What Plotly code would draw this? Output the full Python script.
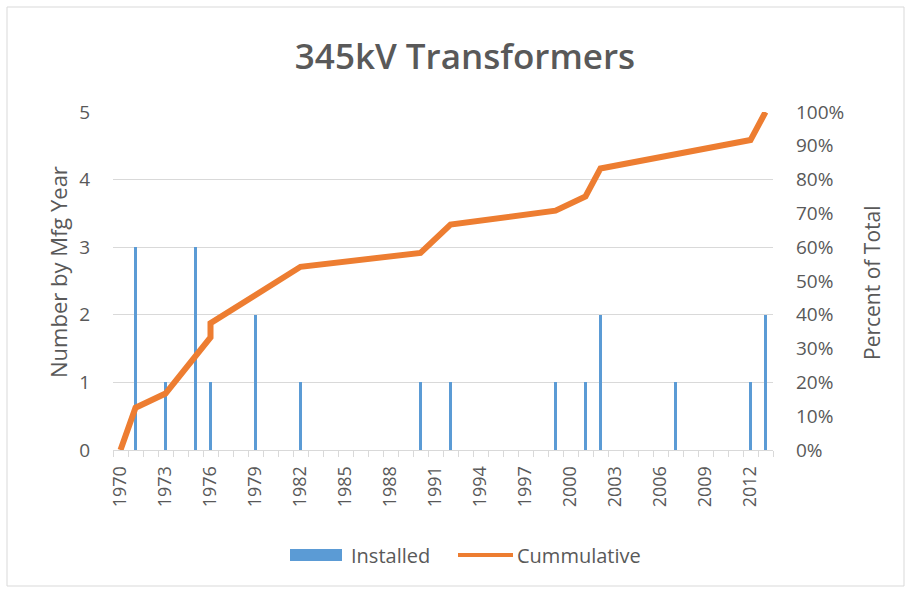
import plotly.graph_objects as go

# Units installed per manufacturing year
install_years = [1971, 1973, 1975, 1976, 1979, 1982, 1990, 1992, 1999, 2001, 2002, 2007, 2012, 2013]
installed = [3, 1, 3, 1, 2, 1, 1, 1, 1, 1, 2, 1, 1, 2]

# Cumulative share of the fleet (percent) at each vertex of the running-total line
cum_years = [1970, 1971, 1973, 1976, 1976, 1979, 1982, 1990, 1992, 1999, 2001, 2002, 2007, 2012, 2013]
cum_pct = [0, 12.5, 16.7, 33.3, 37.5, 45.8, 54.2, 58.3, 66.7, 70.8, 75.0, 83.3, 87.5, 91.7, 100]

tick_years = list(range(1970, 2013, 3))

BLUE = "#5B9BD5"
ORANGE = "#ED7D31"
GRID = "#D9D9D9"
TXT = "#595959"
FONT = "Open Sans"

W, H = 909, 591
L, R, T, B = 113, 773, 112, 450  # plot area in pixels


def px(x):
    return (x - L) / (R - L)


def py(y):
    return (B - y) / (B - T)


fig = go.Figure()
fig.add_trace(go.Bar(
    x=install_years, y=installed, name="Installed",
    marker=dict(color=BLUE, line=dict(width=0)), width=0.26,
))
fig.add_trace(go.Scatter(
    x=cum_years, y=[v / 100 for v in cum_pct], name="Cummulative",
    mode="lines", line=dict(color=ORANGE, width=6), yaxis="y2",
))

# Legend drawn below the plot: swatch + label for each series
legend_y = 555
shapes = [
    dict(type="rect", xref="paper", yref="paper",
         x0=px(7), x1=px(904), y0=py(586), y1=py(7),
         line=dict(color=GRID, width=1), fillcolor="rgba(0,0,0,0)", layer="below"),
    dict(type="rect", xref="paper", yref="paper",
         x0=px(290), x1=px(342), y0=py(legend_y + 6), y1=py(legend_y - 6),
         line=dict(width=0), fillcolor=BLUE),
    dict(type="line", xref="paper", yref="paper",
         x0=px(458), x1=px(513), y0=py(legend_y), y1=py(legend_y),
         line=dict(color=ORANGE, width=4)),
]

fig.update_layout(
    width=W, height=H,
    margin=dict(l=L, r=W - R, t=T, b=H - B),
    paper_bgcolor="white", plot_bgcolor="white",
    font=dict(family=FONT, color=TXT, size=18),
    title=dict(text="345kV Transformers", x=465 / W, xref="container", xanchor="center",
               y=1 - 57 / H, yref="container", yanchor="middle",
               font=dict(family=FONT, size=35, color=TXT, weight=600)),
    showlegend=False,
    bargap=0,
    xaxis=dict(
        range=[1969.5, 2013.5], tickvals=tick_years, ticktext=[str(y) for y in tick_years],
        tickangle=-90, ticks="", showgrid=False, zeroline=False,
        showline=True, linecolor=GRID, linewidth=1,
        tickfont=dict(size=18, color=TXT), ticklabelstandoff=8,
        minor=dict(ticks="outside", tick0=1969.5, dtick=1, ticklen=6, tickcolor=GRID, showgrid=False),
    ),
    yaxis=dict(
        range=[0, 5], dtick=1, showgrid=True, gridcolor=GRID, gridwidth=1,
        zeroline=False, showline=False, ticks="",
        tickfont=dict(size=19, color=TXT), ticklabelstandoff=22,
    ),
    yaxis2=dict(
        range=[0, 1], dtick=0.1, tickformat=".0%", overlaying="y", side="right",
        showgrid=False, zeroline=False, showline=False, ticks="",
        tickfont=dict(size=19, color=TXT), ticklabelstandoff=22,
    ),
    annotations=[
        dict(text="Number by Mfg Year", xref="paper", yref="paper", x=px(58), y=py(272),
             textangle=-90, showarrow=False, font=dict(size=22, color=TXT),
             xanchor="center", yanchor="middle"),
        dict(text="Percent of Total", xref="paper", yref="paper", x=px(872), y=py(282),
             textangle=-90, showarrow=False, font=dict(size=21, color=TXT),
             xanchor="center", yanchor="middle"),
        dict(text="Installed", xref="paper", yref="paper", x=px(349), y=py(legend_y),
             showarrow=False, font=dict(size=20, color=TXT),
             xanchor="left", yanchor="middle"),
        dict(text="Cummulative", xref="paper", yref="paper", x=px(515), y=py(legend_y),
             showarrow=False, font=dict(size=20, color=TXT),
             xanchor="left", yanchor="middle"),
    ],
    shapes=shapes,
)

fig.write_html("out.html")
